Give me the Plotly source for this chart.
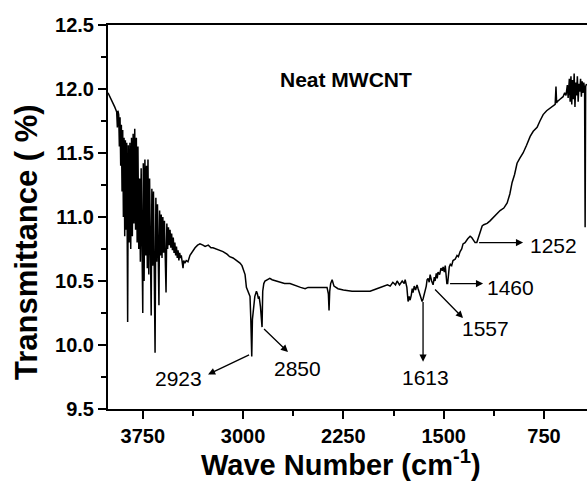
import plotly.graph_objects as go

# ---- spectrum data (wavenumber cm-1, transmittance %) ----
# noisy O-H region
wn_noisy = [4010, 4000, 3990, 3980, 3970, 3960, 3952, 3945, 3940, 3936, 3930, 3925, 3920, 3915,
            3910, 3905, 3900, 3895, 3890, 3885, 3880, 3875, 3870, 3863, 3858, 3852, 3846, 3840,
            3834, 3828, 3822, 3816, 3810, 3804, 3798, 3792, 3786, 3780, 3774, 3768, 3762, 3756,
            3750, 3746, 3740, 3734, 3728, 3722, 3716, 3711, 3705, 3699, 3693, 3687, 3682, 3676,
            3670, 3664, 3658, 3652, 3646, 3640, 3634, 3629, 3624, 3618, 3612, 3606, 3600, 3594,
            3588, 3582, 3576, 3570, 3564, 3558, 3552, 3546, 3540, 3534, 3528, 3522, 3516, 3510,
            3504, 3498, 3492, 3486, 3480, 3474, 3468, 3462, 3456, 3449, 3444]
t_noisy = [11.97, 11.95, 11.93, 11.91, 11.89, 11.86, 11.84, 11.82, 11.70, 11.83, 11.80, 11.55, 11.78, 11.40,
           11.72, 11.20, 11.68, 11.00, 11.62, 10.85, 11.60, 10.90, 11.58, 10.18, 11.56, 10.80, 11.58, 10.75,
           11.62, 10.85, 11.65, 10.95, 11.69, 10.90, 11.62, 10.80, 11.55, 10.75, 11.30, 10.65, 11.38, 10.55,
           10.25, 11.42, 10.50, 11.45, 10.70, 11.40, 10.60, 11.45, 10.55, 11.30, 10.60, 10.23, 11.22, 10.62,
           11.20, 10.60, 9.94, 11.15, 10.65, 11.10, 10.60, 10.31, 11.05, 10.70, 11.02, 10.68, 11.00, 10.72,
           10.97, 10.70, 10.41, 10.95, 10.75, 10.92, 10.78, 10.90, 10.76, 10.87, 10.74, 10.84, 10.72, 10.80,
           10.70, 10.77, 10.68, 10.74, 10.66, 10.72, 10.68, 10.70, 10.64, 10.60, 10.66]

# C-H region and flat middle
wn_mid = [3435, 3425, 3412, 3397, 3380, 3359, 3340, 3322, 3300, 3284, 3260, 3240, 3225, 3200,
          3175, 3150, 3120, 3100, 3075, 3050, 3023, 3008, 2995, 2985, 2975, 2965, 2955, 2948,
          2942, 2935, 2930, 2922, 2912, 2900, 2893, 2885, 2880, 2870, 2862, 2858, 2853, 2845,
          2836, 2800, 2783, 2750, 2723, 2690, 2649, 2626, 2600, 2570, 2536, 2514, 2460, 2400,
          2372, 2362, 2357, 2352, 2345, 2334, 2320, 2290, 2250, 2185, 2120, 2050, 2000, 1953,
          1920, 1900, 1880, 1860, 1848, 1830, 1810, 1795, 1788]
t_mid = [10.64, 10.66, 10.65, 10.70, 10.73, 10.76, 10.78, 10.79, 10.78, 10.77, 10.78, 10.76, 10.76, 10.75,
         10.74, 10.73, 10.71, 10.69, 10.68, 10.66, 10.64, 10.62, 10.58, 10.55, 10.45, 10.42, 10.40, 10.38,
         10.20, 9.91, 10.20, 10.30, 10.38, 10.42, 10.40, 10.36, 10.38, 10.30, 10.14, 10.14, 10.42, 10.48,
         10.50, 10.52, 10.51, 10.50, 10.49, 10.48, 10.48, 10.47, 10.46, 10.45, 10.44, 10.45, 10.45, 10.45,
         10.45, 10.40, 10.27, 10.42, 10.48, 10.51, 10.46, 10.44, 10.43, 10.42, 10.42, 10.42, 10.44, 10.46,
         10.47, 10.46, 10.49, 10.47, 10.50, 10.47, 10.50, 10.48, 10.51]

# fingerprint region and rise to the end
wn_low = [1775, 1766, 1758, 1751, 1742, 1735, 1729, 1720, 1710, 1699, 1691, 1680, 1670, 1661,
          1654, 1645, 1639, 1630, 1624, 1616, 1608, 1601, 1590, 1579, 1570, 1564, 1555, 1548,
          1542, 1530, 1520, 1510, 1504, 1495, 1488, 1482, 1476, 1470, 1465, 1458, 1450, 1440,
          1430, 1414, 1400, 1390, 1377, 1365, 1355, 1340, 1320, 1302, 1290, 1280, 1265, 1252,
          1240, 1227, 1212, 1200, 1175, 1153, 1125, 1100, 1078, 1050, 1025, 1005, 988, 970,
          951, 930, 906, 880, 853, 830, 801, 780, 756, 730, 704, 680, 666, 660, 655, 651,
          630, 607, 595, 585, 575, 569, 560, 554, 548, 542, 536, 530, 524, 518, 512, 506,
          500, 494, 488, 482, 476, 470, 464, 458, 452, 446, 442, 438, 432]
t_low = [10.45, 10.34, 10.38, 10.35, 10.39, 10.44, 10.41, 10.46, 10.43, 10.47, 10.44, 10.40, 10.37, 10.34,
         10.36, 10.40, 10.41, 10.46, 10.51, 10.52, 10.49, 10.55, 10.50, 10.47, 10.53, 10.50, 10.56, 10.52,
         10.57, 10.55, 10.60, 10.58, 10.61, 10.57, 10.62, 10.56, 10.48, 10.48, 10.55, 10.61, 10.63, 10.62,
         10.66, 10.67, 10.70, 10.69, 10.73, 10.75, 10.79, 10.80, 10.83, 10.85, 10.84, 10.82, 10.80, 10.80,
         10.84, 10.88, 10.93, 10.94, 10.95, 10.97, 11.00, 11.02, 11.05, 11.07, 11.11, 11.18, 11.27, 11.33,
         11.42, 11.46, 11.50, 11.56, 11.63, 11.67, 11.70, 11.75, 11.80, 11.83, 11.85, 11.87, 11.88, 12.02, 11.89, 11.90,
         11.92, 11.94, 11.97, 11.95, 12.03, 11.93, 12.08, 11.90, 12.10, 11.88, 12.07, 11.92, 12.12, 11.86, 12.05, 11.95,
         12.10, 11.90, 12.04, 11.98, 12.08, 11.94, 12.06, 11.97, 12.05, 12.00, 10.92, 12.02, 12.04]

wavenumber = wn_noisy + wn_mid + wn_low
transmittance = t_noisy + t_mid + t_low

# peak labels: label, tail point on the spectrum
peak_labels = ["2923", "2850", "1613", "1557", "1460", "1252"]
peak_wn = [2940, 2858, 1654, 1579, 1467, 1250]
peak_t = [9.93, 10.14, 10.36, 10.45, 10.48, 10.80]
# arrow head and label centre (layout)
head_x = [3262, 2664, 1654, 1355, 1205, 906]
head_y = [9.77, 9.945, 9.87, 10.21, 10.48, 10.80]
text_x = [3486, 2596, 1639, 1190, 1003, 681]
text_y = [9.74, 9.82, 9.75, 10.13, 10.45, 10.78]

FONT = "Liberation Sans, Arial, sans-serif"

fig = go.Figure()
fig.add_trace(go.Scatter(x=wavenumber, y=transmittance, mode="lines",
                         line=dict(color="black", width=1.5), showlegend=False,
                         hoverinfo="skip"))

annotations = []
for lab, tx, ty, hx, hy, lx, ly in zip(peak_labels, peak_wn, peak_t, head_x, head_y, text_x, text_y):
    annotations.append(dict(x=hx, y=hy, ax=tx, ay=ty, xref="x", yref="y", axref="x", ayref="y",
                            text=" ", font=dict(size=2), showarrow=True, arrowhead=2,
                            arrowsize=1.1, arrowwidth=1.3, arrowcolor="black"))
    annotations.append(dict(x=lx, y=ly, xref="x", yref="y", text=lab, showarrow=False,
                            font=dict(family=FONT, size=21, color="black"),
                            xanchor="center", yanchor="middle"))

annotations.append(dict(x=0.497, y=0.857, xref="paper", yref="paper", text="Neat MWCNT",
                        showarrow=False, font=dict(family=FONT, size=21, color="black", weight="bold"),
                        xanchor="center", yanchor="middle"))
annotations.append(dict(x=-0.169, y=0.435, xref="paper", yref="paper", text="Transmittance ( %)",
                        textangle=-90, showarrow=False,
                        font=dict(family=FONT, size=31, color="black", weight="bold"),
                        xanchor="center", yanchor="middle"))
annotations.append(dict(x=0.486, y=-0.141, xref="paper", yref="paper",
                        text="Wave Number (cm<sup>-1</sup>)", showarrow=False,
                        font=dict(family=FONT, size=29, color="black", weight="bold"),
                        xanchor="center", yanchor="middle"))

fig.update_layout(
    width=587, height=481,
    margin=dict(l=108, r=0, t=25, b=72),
    paper_bgcolor="white", plot_bgcolor="white",
    annotations=annotations,
    xaxis=dict(range=[4010, 428], tick0=0, dtick=750, ticks="outside", ticklen=8, tickwidth=2,
               tickcolor="black", showline=True, linewidth=2, linecolor="black", mirror=True,
               showgrid=False, zeroline=False,
               tickfont=dict(family=FONT, size=20, color="black", weight="bold"),
               minor=dict(ticks="outside", ticklen=5, tickwidth=2, tickcolor="black", dtick=375,
                          tick0=0, showgrid=False)),
    yaxis=dict(range=[9.5, 12.5], tick0=9.5, dtick=0.5, tickformat=".1f", ticks="outside",
               ticklen=8, tickwidth=2, tickcolor="black", showline=True, linewidth=2,
               linecolor="black", showgrid=False, zeroline=False,
               tickfont=dict(family=FONT, size=20, color="black", weight="bold"),
               minor=dict(ticks="outside", ticklen=5, tickwidth=2, tickcolor="black", dtick=0.25,
                          tick0=9.5, showgrid=False)),
)

fig.write_html("out.html")
